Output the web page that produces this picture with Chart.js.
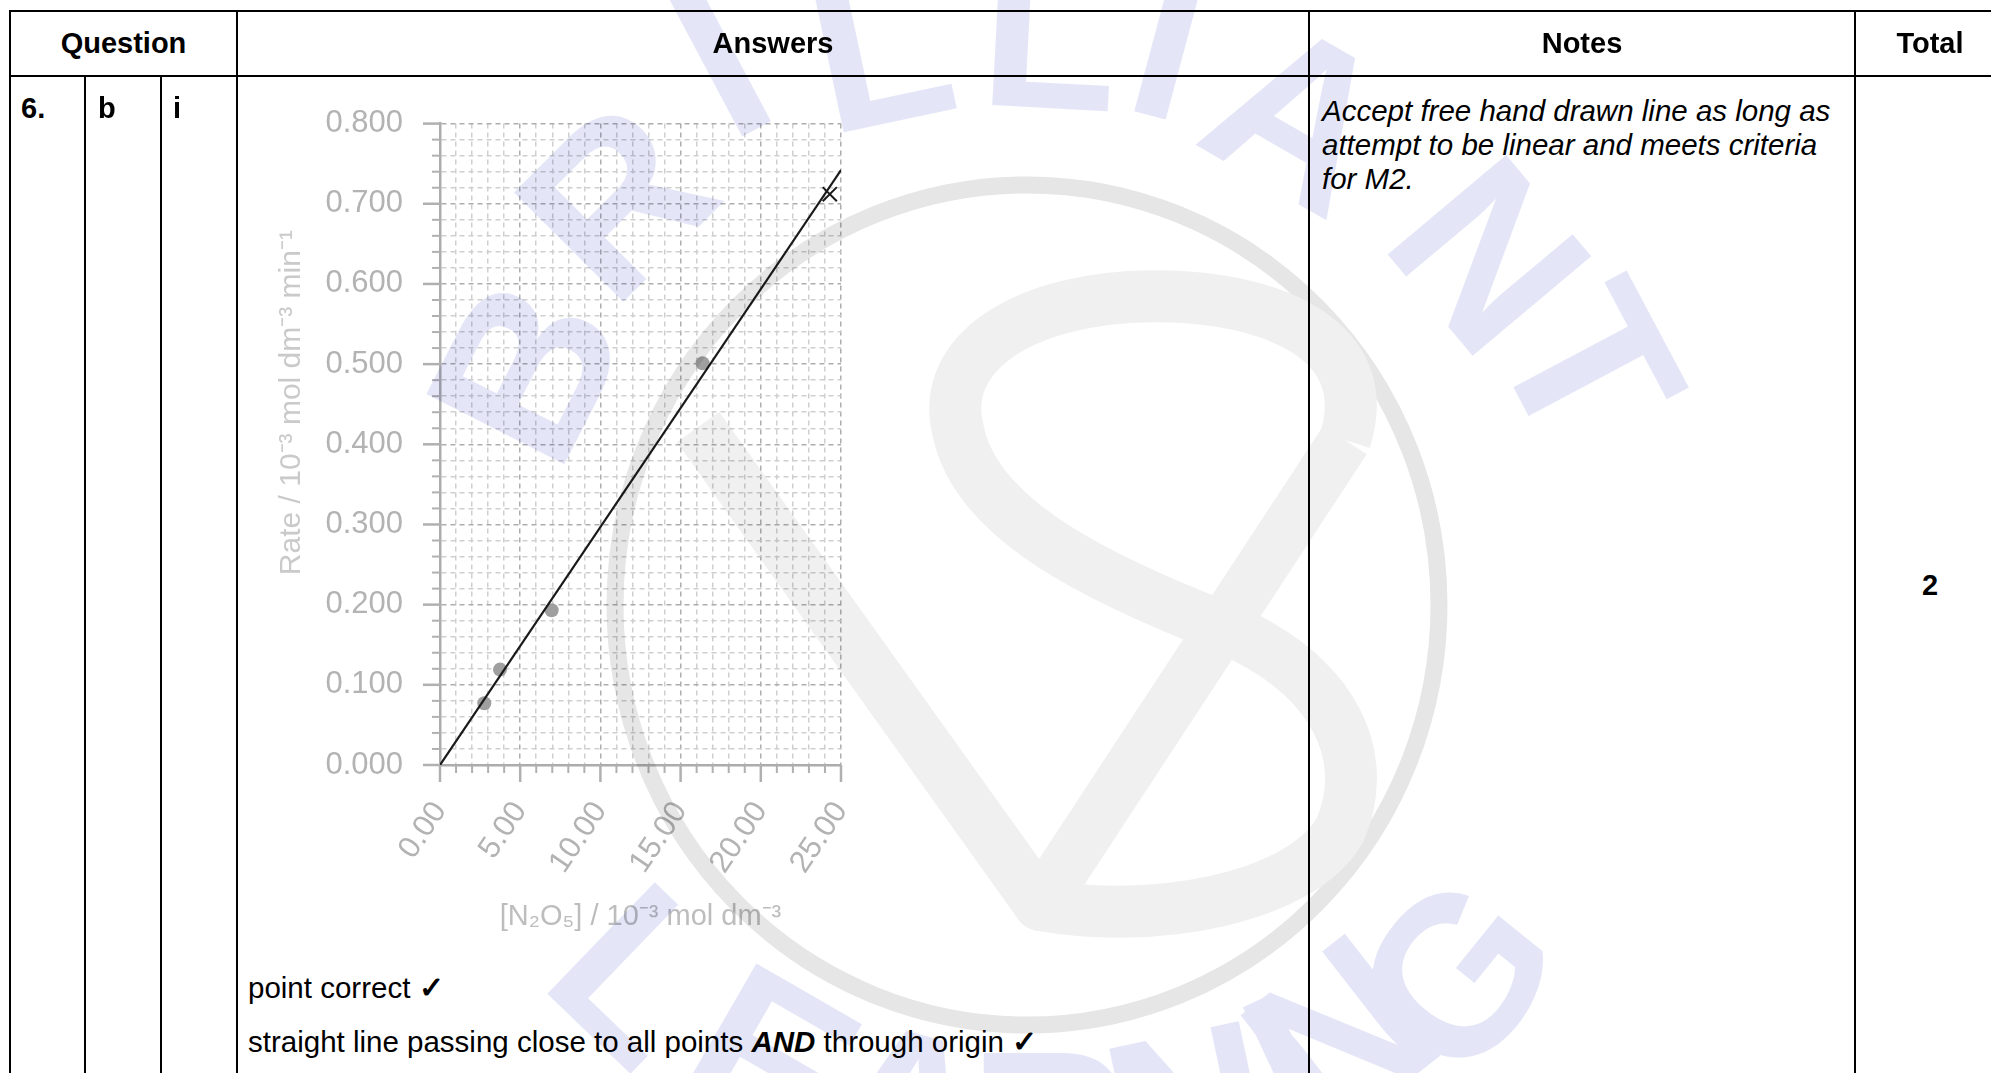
<!DOCTYPE html>
<html><head><meta charset="utf-8">
<script src="https://cdn.jsdelivr.net/npm/chart.js@4.4.1/dist/chart.umd.min.js"></script>
<style>
html,body{margin:0;padding:0;background:#fff;}
body{width:1991px;height:1073px;overflow:hidden;position:relative;font-family:"Liberation Sans",Arial,sans-serif;color:#000;}
.hl,.vl{position:absolute;background:#000;z-index:3;}
.t{position:absolute;white-space:nowrap;font-size:29px;z-index:3;}
.b{font-weight:bold;}
.c{text-align:center;}
#wm{position:absolute;left:0;top:0;width:1991px;height:1073px;mix-blend-mode:multiply;pointer-events:none;z-index:6;}
#cw{position:absolute;left:250px;top:68px;width:700px;height:882px;z-index:2;}
</style></head><body>

<!-- table lines -->
<div class="hl" style="left:9px;top:10px;width:2000px;height:2px"></div>
<div class="hl" style="left:9px;top:75px;width:2000px;height:2px"></div>
<div class="vl" style="left:9px;top:10px;width:2px;height:1063px"></div>
<div class="vl" style="left:236px;top:10px;width:2px;height:1063px"></div>
<div class="vl" style="left:1308px;top:10px;width:2px;height:1063px"></div>
<div class="vl" style="left:1854px;top:10px;width:2px;height:1063px"></div>
<div class="vl" style="left:84px;top:76px;width:2px;height:997px"></div>
<div class="vl" style="left:160px;top:76px;width:2px;height:997px"></div>

<!-- header -->
<div class="t b c" style="left:11px;width:225px;top:12px;height:63px;line-height:63px">Question</div>
<div class="t b c" style="left:238px;width:1070px;top:12px;height:63px;line-height:63px">Answers</div>
<div class="t b c" style="left:1310px;width:544px;top:12px;height:63px;line-height:63px">Notes</div>
<div class="t b c" style="left:1856px;width:148px;top:12px;height:63px;line-height:63px">Total</div>

<!-- body row -->
<div class="t b" style="left:21px;top:88px;line-height:40px">6.</div>
<div class="t b" style="left:98px;top:88px;line-height:40px">b</div>
<div class="t b" style="left:173px;top:88px;line-height:40px">i</div>
<div class="t" style="left:1322px;top:94px;line-height:34px;font-size:29.5px;font-style:italic">Accept free hand drawn line as long as<br>attempt to be linear and meets criteria<br>for M2.</div>
<div class="t b c" style="left:1856px;width:148px;top:565px;line-height:40px">2</div>
<div class="t" style="left:248px;top:968px;line-height:40px;font-size:29.5px">point correct <b>✓</b></div>
<div class="t" style="left:248px;top:1022px;line-height:40px;font-size:29.5px">straight line passing close to all points <b><i>AND</i></b> through origin <b>✓</b></div>

<div id="cw"><canvas id="c"></canvas></div>

<!-- watermark -->
<svg id="wm" width="1991" height="1073" viewBox="0 0 1991 1073">
 <g fill="none" stroke-linejoin="round">
  <ellipse cx="1027" cy="605" rx="412" ry="420" stroke="#e6e6e6" stroke-width="17"/>
  <path d="M 698 427 L 1040 905 L 1345 440" stroke="#f0f0f0" stroke-width="52"/>
  <path d="M 1345 440 C 1380 330 1250 290 1129 297 C 1010 305 940 360 958 430 C 975 520 1100 580 1230 630 C 1340 680 1370 760 1340 830 C 1300 900 1150 925 1040 905" stroke="#f0f0f0" stroke-width="52"/>
 </g>
 <g font-family="Liberation Sans" font-weight="bold" font-size="225" fill="#e4e6f8" text-anchor="middle" dominant-baseline="central">
  <text transform="translate(525,370) rotate(-63)">B</text>
  <text transform="translate(615,200) rotate(-45)">R</text>
  <text transform="translate(720,60) rotate(-28)">I</text>
  <text transform="translate(880,45) rotate(-12)">L</text>
  <text transform="translate(1050,30) rotate(3)">L</text>
  <text transform="translate(1170,40) rotate(15)">I</text>
  <text transform="translate(1300,115) rotate(30)">A</text>
  <text transform="translate(1490,255) rotate(50)">N</text>
  <text transform="translate(1590,365) rotate(62)">T</text>
  <text transform="translate(640,975) rotate(44)">L</text>
  <text transform="translate(770,1060) rotate(30)">E</text>
  <text transform="translate(905,1110) rotate(15)">A</text>
  <text transform="translate(1050,1130) rotate(0)">R</text>
  <text transform="translate(1190,1110) rotate(-12)">N</text>
  <text transform="translate(1290,1070) rotate(-25)">I</text>
  <text transform="translate(1340,1035) rotate(-38)">N</text>
  <text transform="translate(1455,975) rotate(-51)">G</text>
 </g>
</svg>

<script>
// ---- data ----
const xData = [2.76, 3.74, 6.96, 16.37];
const yData = [0.077, 0.119, 0.193, 0.501];
const crossX = [24.3];
const crossY = [0.712];
const lineX = [0, 25];
const lineY = [0, 0.742];
const xTickValues = [0, 5, 10, 15, 20, 25];
const xTickLabels = ['0.00', '5.00', '10.00', '15.00', '20.00', '25.00'];
const yTickValues = [0, 0.1, 0.2, 0.3, 0.4, 0.5, 0.6, 0.7, 0.8];
const yTickLabels = ['0.000', '0.100', '0.200', '0.300', '0.400', '0.500', '0.600', '0.700', '0.800'];
const xTitle = '[N\u2082O\u2085] / 10\u207B\u00B3 mol dm\u207B\u00B3';
const yTitle = '          Rate / 10\u207B\u00B3 mol dm\u207B\u00B3 min\u207B\u00B9';
// minor grid positions (1 unit on x, 0.02 on y)
const xGridValues = Array.from({length: 26}, (_, i) => i);
const yGridValues = Array.from({length: 41}, (_, i) => i / 50);

const FAMILY = '"Liberation Sans", Arial, sans-serif';
const isMajor = (v, arr) => arr.some(t => Math.abs(t - v) < 1e-9);
const labelFor = (v, vals, labels) => {
  const i = vals.findIndex(t => Math.abs(t - v) < 1e-9);
  return i >= 0 ? labels[i] : '';
};

const tickMarks = {
  id: 'tickMarks',
  afterDraw(chart) {
    const {ctx, chartArea, scales: {x, y}} = chart;
    ctx.save();
    ctx.strokeStyle = '#b0b0b0';
    xGridValues.forEach(v => {
      const px = x.getPixelForValue(v);
      const major = isMajor(v, xTickValues);
      ctx.lineWidth = major ? 2.5 : 2;
      ctx.beginPath();
      ctx.moveTo(px, chartArea.bottom);
      ctx.lineTo(px, chartArea.bottom + (major ? 17 : 8));
      ctx.stroke();
    });
    yGridValues.forEach(v => {
      const py = y.getPixelForValue(v);
      const major = isMajor(v, yTickValues);
      ctx.lineWidth = major ? 2.5 : 2;
      ctx.beginPath();
      ctx.moveTo(chartArea.left, py);
      ctx.lineTo(chartArea.left - (major ? 17 : 8), py);
      ctx.stroke();
    });
    ctx.restore();
  }
};

const pts = xData.map((v, i) => ({x: v, y: yData[i]}));
const cross = crossX.map((v, i) => ({x: v, y: crossY[i]}));
const fit = lineX.map((v, i) => ({x: v, y: lineY[i]}));

new Chart(document.getElementById('c'), {
  type: 'scatter',
  data: {
    datasets: [
      {data: fit, showLine: true, borderColor: '#1a1a1a', borderWidth: 2.2, pointRadius: 0, order: 0},
      {data: cross, pointStyle: 'crossRot', pointRadius: 10, borderColor: '#1a1a1a', pointBorderWidth: 2, backgroundColor: '#1a1a1a', order: 1},
      {data: pts, pointStyle: 'circle', pointRadius: 7, backgroundColor: '#9f9f9f', borderWidth: 0, order: 2}
    ]
  },
  options: {
    responsive: true,
    maintainAspectRatio: false,
    animation: false,
    events: [],
    layout: {padding: {top: 22, right: 109, bottom: 0, left: 0}},
    plugins: {legend: {display: false}, tooltip: {enabled: false}},
    scales: {
      x: {
        type: 'linear', min: 0, max: 25,
        afterBuildTicks: s => { s.ticks = xGridValues.map(v => ({value: v})); },
        afterFit: s => { s.height = 185; },
        ticks: {autoSkip: false, minRotation: 56, maxRotation: 56, padding: 30, color: '#b3b3b3',
                font: {family: FAMILY, size: 31}, callback: v => labelFor(v, xTickValues, xTickLabels)},
        grid: {drawTicks: false, lineWidth: 1.5, borderDash: [5, 4],
               color: c => (c.tick && isMajor(c.tick.value, xTickValues)) ? '#adadad' : '#cfcfcf'},
        border: {display: true, color: '#acacac', width: 2.5, dash: [5, 4]},
        title: {display: true, text: xTitle, color: '#bdbdbd', font: {family: FAMILY, size: 29}, padding: {top: 0, bottom: 16}}
      },
      y: {
        type: 'linear', min: 0, max: 0.8,
        afterBuildTicks: s => { s.ticks = yGridValues.map(v => ({value: v})); },
        afterFit: s => { s.width = 190; },
        ticks: {autoSkip: false, padding: 37, color: '#b3b3b3',
                font: {family: FAMILY, size: 31}, callback: v => labelFor(v, yTickValues, yTickLabels)},
        grid: {drawTicks: false, lineWidth: 1.5, borderDash: [5, 4],
               color: c => (c.tick && isMajor(c.tick.value, yTickValues)) ? '#adadad' : '#cfcfcf'},
        border: {display: true, color: '#acacac', width: 2.5, dash: [5, 4]},
        title: {display: true, text: yTitle, color: '#cacaca', font: {family: FAMILY, size: 30}, padding: {top: 24, bottom: 0}}
      }
    }
  },
  plugins: [tickMarks]
});
</script>
</body></html>
